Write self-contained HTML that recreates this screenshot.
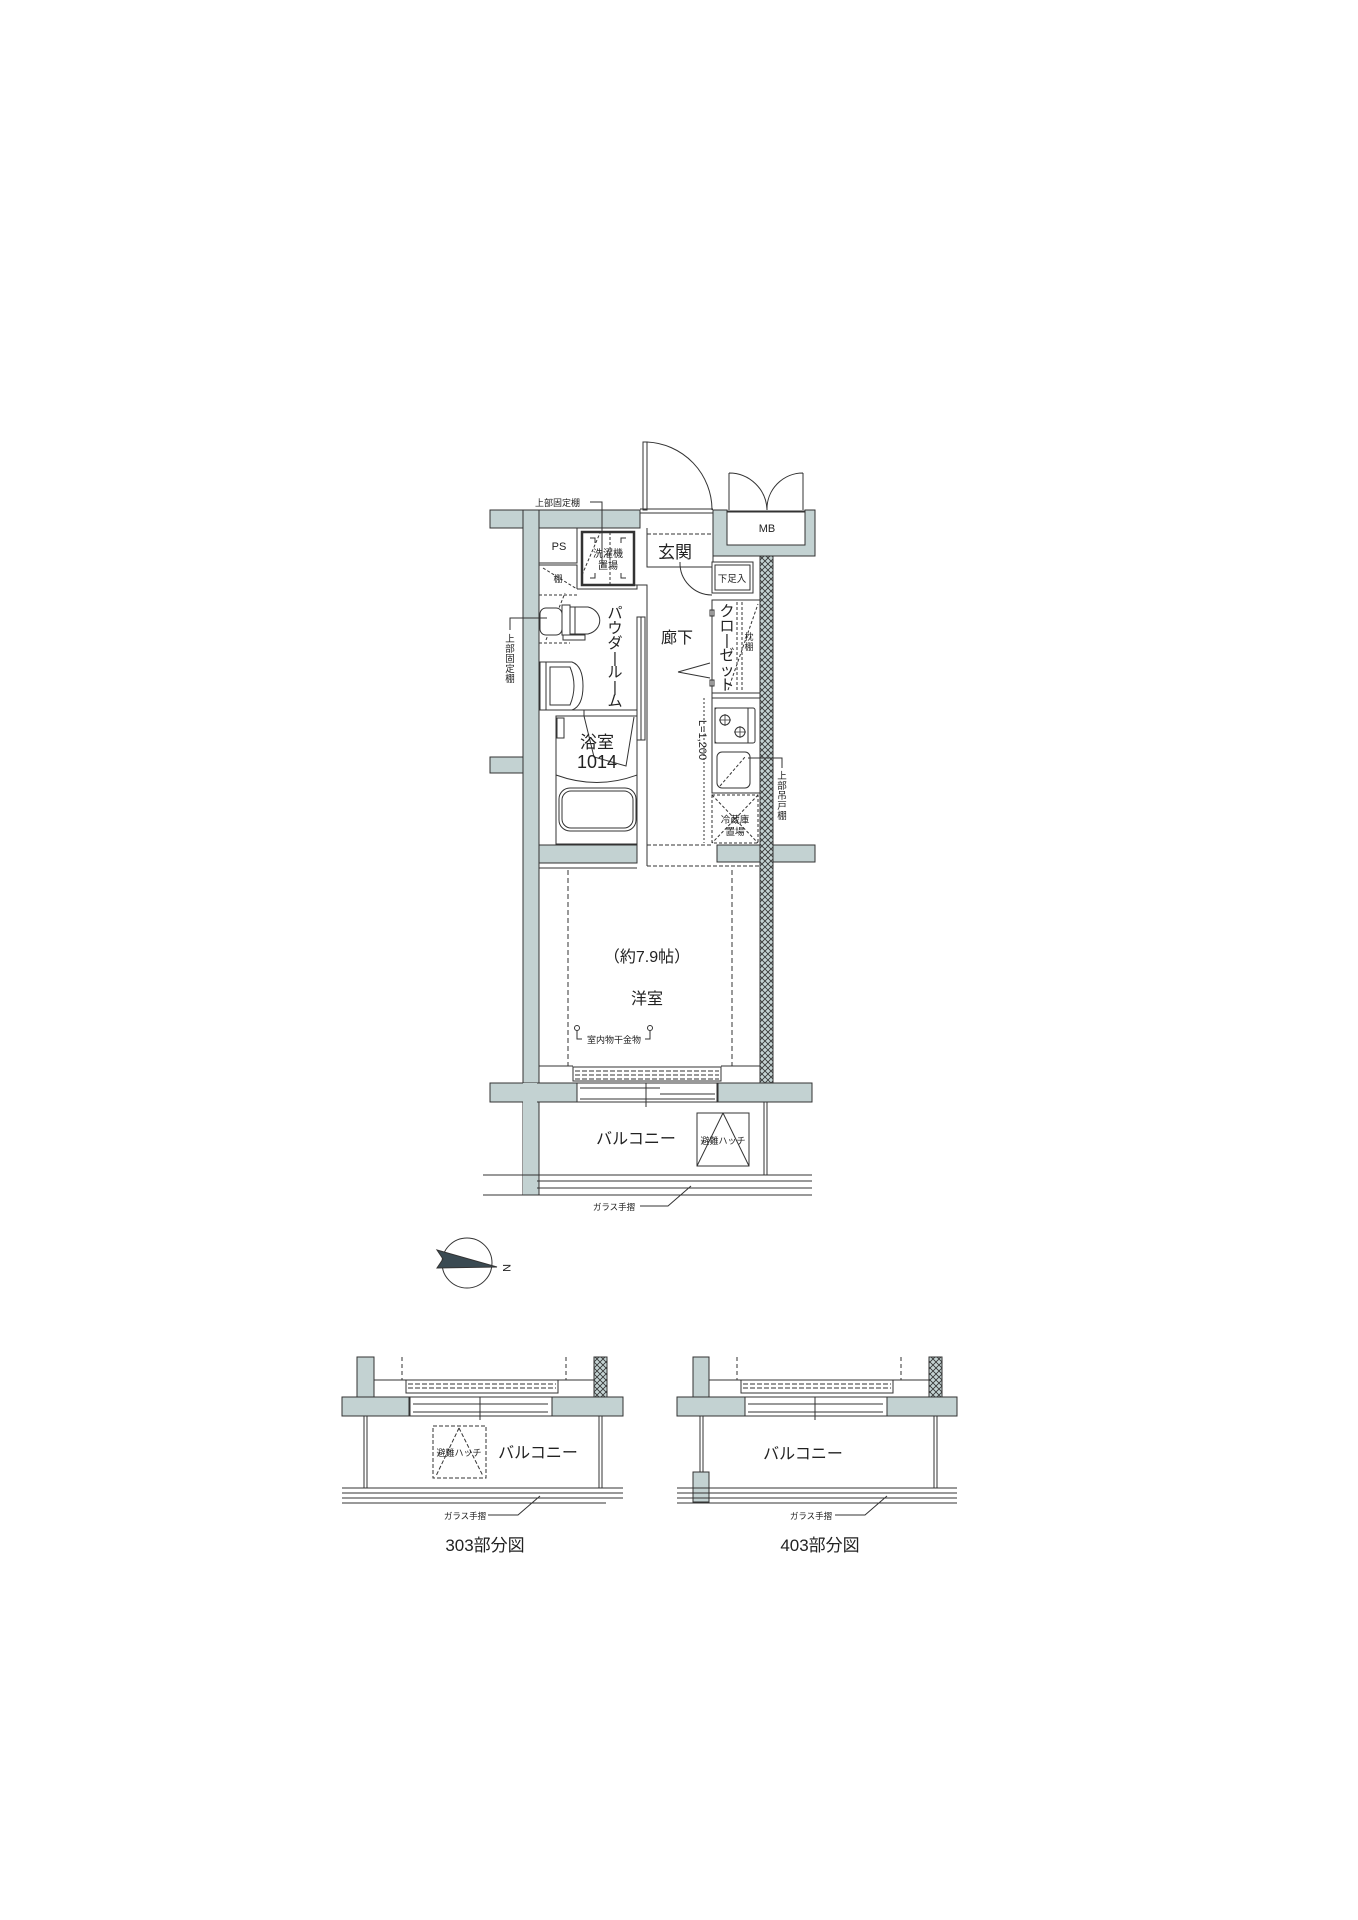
<!DOCTYPE html>
<html><head><meta charset="utf-8"><style>
html,body{margin:0;padding:0;background:#fff;}
svg{display:block;}
text{font-family:"Liberation Sans","Noto Sans CJK JP",sans-serif;fill:#222;}
</style></head><body>
<svg width="1358" height="1920" viewBox="0 0 1358 1920" xmlns="http://www.w3.org/2000/svg">
<defs>
<pattern id="hx" width="6" height="6" patternUnits="userSpaceOnUse">
<rect width="6" height="6" fill="#c3d2d2"/>
<path d="M0,0L6,6M6,0L0,6" stroke="#333" stroke-width="0.8"/>
</pattern>
</defs>
<g stroke="#333" stroke-width="1" fill="#c3d2d2">
<rect x="490" y="510" width="150" height="18"/>
<rect x="523" y="510" width="16" height="685"/>
<rect x="490" y="757" width="33" height="16"/>
<rect x="490" y="1083" width="87" height="19"/>
<rect x="523" y="1083" width="14" height="112" stroke="none"/>
<path d="M713,510H727V545H805V510H815V556H713Z"/>
<rect x="539" y="845" width="98" height="18"/>
<rect x="717" y="845" width="98" height="17"/>
<rect x="718" y="1083" width="94" height="19"/>
<rect x="760" y="556" width="13" height="527" fill="url(#hx)"/>
</g>
<g stroke="#333" stroke-width="1" fill="none">
<rect x="643" y="442" width="4" height="68" fill="#fff"/>
<path d="M647,442A68,68 0 0 1 712,510"/>
<path d="M640,509H713M640,513H713"/>
<path d="M729,473V510M767,510A38,38 0 0 0 729,473"/>
<path d="M803,473V510M767,510A36,36 0 0 1 803,473"/>
<path d="M727,511H805"/>
<rect x="727" y="512" width="78" height="33" fill="#fff"/>
<path d="M713,528V562M647,528V567H712" />
<path d="M647,534H712" stroke-dasharray="4,2"/>
<path d="M680,562A32,32 0 0 0 712,595"/>
<rect x="712" y="562" width="41" height="31"/>
<rect x="715" y="565" width="35" height="25"/>
<path d="M539,563H577V528M539,565H577V589"/>
<path d="M543,568L577,589" stroke-dasharray="3,2"/>
<rect x="582" y="532" width="52" height="53" stroke-width="2.5"/>
<path d="M590,538h5v5M626,538h-5v5M590,578h5v-5M626,578h-5v-5"/>
<path d="M610,532V585" stroke-dasharray="3,2"/>
<path d="M582,575L600,533" stroke-dasharray="3,2"/>
<path d="M577,589H637V585H647V866"/>
<path d="M634,585H647"/>
<path d="M539,595H577" stroke-dasharray="3,2"/>
<path d="M546,640L565,593" stroke-dasharray="3,2"/>
<path d="M539,643H570" stroke-dasharray="3,2"/>
<rect x="540" y="608" width="22" height="27" rx="6" fill="#fff"/>
<rect x="562" y="605" width="8" height="30" fill="#fff"/>
<rect x="570" y="607" width="5" height="27"/>
<path d="M575,607H588A16,14 0 0 1 588,634H575"/>
<rect x="563" y="635" width="22" height="5"/>
<rect x="540" y="662" width="6" height="48"/>
<path d="M546,662H572Q583,666 583,686Q583,706 572,710H546"/>
<path d="M550,667H570Q578,686 570,705H550Z"/>
<path d="M637,617H645V740H637Z"/>
<path d="M641,617V740"/>
<path d="M539,710H637"/>
<rect x="584" y="710" width="53" height="6"/>
<rect x="556" y="716" width="81" height="128"/>
<rect x="557" y="718" width="7" height="20"/>
<path d="M584,716L594,757L626,766L634,717"/>
<path d="M556,775Q597,790 637,775"/>
<rect x="559" y="788" width="77" height="43" rx="11"/>
<rect x="562" y="791" width="71" height="37" rx="9"/>
<rect x="712" y="600" width="48" height="93"/>
<rect x="710" y="610" width="4" height="6"/>
<rect x="710" y="680" width="4" height="6"/>
<path d="M737,602V690M742,602V690" stroke-dasharray="3,2"/>
<path d="M728,690L758,604" stroke-dasharray="3,2"/>
<path d="M712,693V698"/>
<path d="M678,672L710,663M678,672L710,678"/>
<rect x="712" y="698" width="48" height="95"/>
<rect x="715" y="708" width="40" height="35" rx="2"/>
<rect x="715" y="708" width="33" height="35" />
<circle cx="725" cy="720" r="5"/><circle cx="740" cy="732" r="5"/>
<path d="M719,720h12M725,714v12M734,732h12M740,726v12" stroke-width="0.8"/>
<rect x="717" y="752" width="33" height="36" rx="5"/>
<path d="M720,786L745,757" stroke-dasharray="3,2"/>
<path d="M748,758H782V768"/>
<path d="M704,698V843" stroke-dasharray="2,2"/>
<rect x="712" y="795" width="46" height="48" stroke-dasharray="3,2"/>
<path d="M712,795L758,843M758,795L712,843" stroke-dasharray="3,2"/>
<path d="M647,845H712" stroke-dasharray="4,2"/>
<path d="M647,866H760" stroke-dasharray="4,2"/>
<path d="M539,868H637"/>
<path d="M568,870V1066M732,870V1066" stroke-dasharray="5,3"/>
<path d="M539,1066H573M721,1066H760"/>
<rect x="573" y="1067" width="148" height="14"/>
<path d="M575,1071H719M575,1075H719M575,1079H719" stroke-dasharray="5,2"/>
<rect x="577" y="1083" width="140" height="19"/>
<path d="M580,1088H660M660,1094H715M580,1099H715"/>
<path d="M646,1083V1107"/>
<circle cx="577" cy="1028" r="2.5"/><circle cx="650" cy="1028" r="2.5"/>
<path d="M577,1031V1039H582M650,1031V1039H645"/>
<path d="M764,1102V1175M767,1102V1175"/>
<rect x="697" y="1113" width="52" height="53"/>
<path d="M723,1113L697,1166M723,1113L749,1166"/>
<path d="M483,1175H812M537,1181H812M537,1188H812M483,1195H812"/>
<path d="M640,1206H668L691,1186"/>
<path d="M590,502H602V563"/>
<path d="M510,630V618H547"/>
<circle cx="467" cy="1263" r="25"/>
<path d="M437,1250L497,1267L437,1268L443,1259Z" fill="#3a4a52"/>
<rect x="357" y="1357" width="17" height="41" fill="#c3d2d2"/>
<rect x="342" y="1397" width="67" height="19" fill="#c3d2d2"/>
<rect x="552" y="1397" width="71" height="19" fill="#c3d2d2"/>
<rect x="594" y="1357" width="13" height="40" fill="url(#hx)"/>
<path d="M374,1380H594"/>
<path d="M402,1357V1380M566,1357V1380" stroke-dasharray="4,3"/>
<rect x="406" y="1380" width="152" height="13"/>
<path d="M408,1384H556M408,1388H556" stroke-dasharray="5,2"/>
<rect x="410" y="1397" width="142" height="19"/>
<path d="M413,1404H548M413,1412H548M480,1397V1420"/>
<path d="M364,1416V1488M367,1416V1488M599,1416V1488M602,1416V1488"/>
<rect x="433" y="1426" width="53" height="52" stroke-dasharray="4,2"/>
<path d="M459,1428L436,1476M459,1428L483,1476" stroke-dasharray="4,2"/>
<path d="M342,1488H623M342,1493H623M342,1498H623M342,1503H606"/>
<path d="M488,1515H518L540,1496"/>
<rect x="693" y="1357" width="16" height="41" fill="#c3d2d2"/>
<rect x="677" y="1397" width="68" height="19" fill="#c3d2d2"/>
<rect x="887" y="1397" width="70" height="19" fill="#c3d2d2"/>
<rect x="929" y="1357" width="13" height="40" fill="url(#hx)"/>
<path d="M709,1380H929"/>
<path d="M737,1357V1380M901,1357V1380" stroke-dasharray="4,3"/>
<rect x="741" y="1380" width="152" height="13"/>
<path d="M743,1384H891M743,1388H891" stroke-dasharray="5,2"/>
<rect x="745" y="1397" width="142" height="19"/>
<path d="M748,1404H883M748,1412H883M815,1397V1420"/>
<path d="M700,1416V1472M703,1416V1472M934,1416V1488M937,1416V1488"/>
<rect x="693" y="1472" width="16" height="30" fill="#c3d2d2"/>
<path d="M677,1488H957M677,1493H957M677,1498H957M677,1503H957"/>
<path d="M835,1515H865L887,1496"/>
</g>
<text x="767" y="532" font-size="11" text-anchor="middle">MB</text>
<text x="559" y="550" font-size="11" text-anchor="middle">PS</text>
<text x="608" y="557" font-size="10" text-anchor="middle">洗濯機</text>
<text x="608" y="569" font-size="10" text-anchor="middle">置場</text>
<text x="558" y="582" font-size="9" text-anchor="middle">棚</text>
<text x="675" y="558" font-size="17" text-anchor="middle">玄関</text>
<text x="732" y="582" font-size="9.5" text-anchor="middle">下足入</text>
<text x="677" y="643" font-size="16" text-anchor="middle">廊下</text>
<text font-size="15" text-anchor="middle"><tspan x="615" y="618">パ</tspan><tspan x="615" y="633">ウ</tspan><tspan x="615" y="648">ダ</tspan><tspan x="615" y="663">|</tspan><tspan x="615" y="677">ル</tspan><tspan x="615" y="692">|</tspan><tspan x="615" y="706">ム</tspan></text>
<text font-size="15" text-anchor="middle"><tspan x="727" y="616">ク</tspan><tspan x="727" y="631">ロ</tspan><tspan x="727" y="645">|</tspan><tspan x="727" y="660">ゼ</tspan><tspan x="727" y="675">ッ</tspan><tspan x="727" y="690">ト</tspan></text>
<text font-size="9" text-anchor="middle"><tspan x="749" y="640">枕</tspan><tspan x="749" y="650">棚</tspan></text>
<text x="597" y="748" font-size="17" text-anchor="middle">浴室</text>
<text x="597" y="768" font-size="18" text-anchor="middle">1014</text>
<text x="699" y="720" font-size="11" transform="rotate(90 699 720)">L=1,200</text>
<text x="735" y="823" font-size="9.5" text-anchor="middle">冷蔵庫</text>
<text x="735" y="835" font-size="9.5" text-anchor="middle">置場</text>
<text x="535" y="506" font-size="9">上部固定棚</text>
<text font-size="9.5" text-anchor="middle"><tspan x="510" y="642">上</tspan><tspan x="510" y="652">部</tspan><tspan x="510" y="662">固</tspan><tspan x="510" y="672">定</tspan><tspan x="510" y="682">棚</tspan></text>
<text font-size="9.5" text-anchor="middle"><tspan x="782" y="779">上</tspan><tspan x="782" y="789">部</tspan><tspan x="782" y="799">吊</tspan><tspan x="782" y="809">戸</tspan><tspan x="782" y="819">棚</tspan></text>
<text x="647" y="962" font-size="16" text-anchor="middle">（約7.9帖）</text>
<text x="647" y="1004" font-size="16" text-anchor="middle">洋室</text>
<text x="614" y="1043" font-size="9" text-anchor="middle">室内物干金物</text>
<text x="636" y="1144" font-size="16" text-anchor="middle">バルコニー</text>
<text x="723" y="1144" font-size="9" text-anchor="middle">避難ハッチ</text>
<text x="614" y="1210" font-size="8.5" text-anchor="middle">ガラス手摺</text>
<text x="503" y="1264" font-size="11" transform="rotate(90 503 1264)">N</text>
<text x="459" y="1456" font-size="9" text-anchor="middle">避難ハッチ</text>
<text x="538" y="1458" font-size="16" text-anchor="middle">バルコニー</text>
<text x="465" y="1519" font-size="8.5" text-anchor="middle">ガラス手摺</text>
<text x="485" y="1551" font-size="17" text-anchor="middle">303部分図</text>
<text x="803" y="1459" font-size="16" text-anchor="middle">バルコニー</text>
<text x="811" y="1519" font-size="8.5" text-anchor="middle">ガラス手摺</text>
<text x="820" y="1551" font-size="17" text-anchor="middle">403部分図</text>
</svg>
</body></html>
